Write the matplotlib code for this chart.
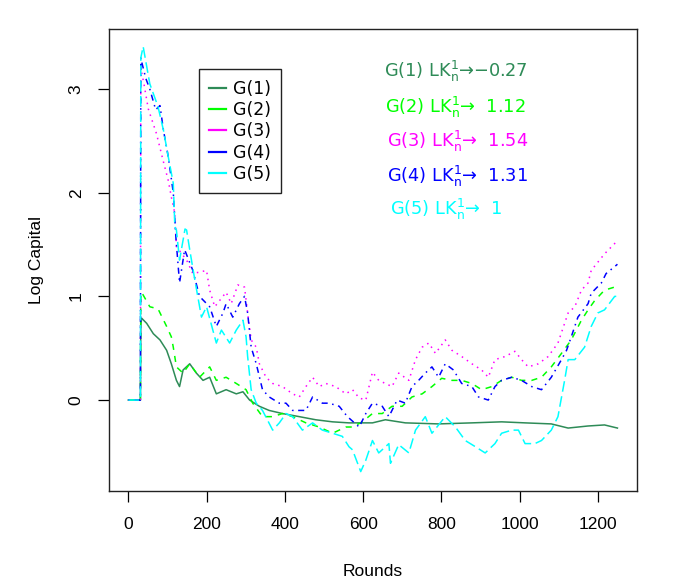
import matplotlib
matplotlib.use("Agg")
import matplotlib.pyplot as plt
from matplotlib.lines import Line2D

# ---- data: log capital of five strategies over betting rounds ----
rounds_g1 = [0, 31, 32, 34, 47, 64, 81, 98, 110, 123, 131, 140, 157, 174, 191, 208,
             225, 250, 276, 293, 310, 335, 360, 394, 437, 479, 522, 564, 624, 657,
             708, 793, 878, 954, 1014, 1081, 1124, 1175, 1217, 1250]
g1 = [0, 0, 0.72, 0.79, 0.74, 0.64, 0.58, 0.48, 0.35, 0.19, 0.13, 0.29, 0.35, 0.26,
      0.19, 0.22, 0.06, 0.10, 0.06, 0.08, 0.0, -0.06, -0.10, -0.13, -0.16, -0.19,
      -0.21, -0.22, -0.22, -0.19, -0.22, -0.23, -0.22, -0.21, -0.22, -0.23, -0.27,
      -0.25, -0.24, -0.27]

rounds_g2 = [0, 31, 32, 34, 55, 76, 98, 110, 115, 123, 140, 157, 182, 208, 225, 250,
             276, 301, 318, 343, 369, 394, 420, 454, 488, 522, 556, 573, 598, 624,
             649, 674, 700, 725, 751, 776, 801, 827, 852, 878, 903, 929, 954, 980,
             1005, 1031, 1056, 1081, 1107, 1132, 1158, 1175, 1192, 1217, 1243, 1250]
g2 = [0, 0, 0.98, 1.04, 0.90, 0.88, 0.71, 0.61, 0.51, 0.32, 0.26, 0.35, 0.22, 0.32,
      0.19, 0.22, 0.16, 0.10, -0.03, -0.16, -0.16, -0.13, -0.16, -0.22, -0.26, -0.32,
      -0.26, -0.26, -0.21, -0.13, -0.13, -0.06, -0.06, 0.03, 0.06, 0.13, 0.21, 0.19,
      0.19, 0.16, 0.10, 0.13, 0.19, 0.22, 0.19, 0.19, 0.22, 0.32, 0.45, 0.58, 0.77,
      0.87, 0.96, 1.06, 1.09, 1.12]

rounds_g3 = [0, 31, 32, 40, 51, 72, 89, 102, 110, 119, 123, 149, 165, 200, 208, 221,
             250, 263, 280, 297, 305, 314, 327, 335, 352, 369, 394, 420, 437, 454, 471,
             488, 505, 530, 556, 573, 590, 607, 624, 640, 657, 674, 691, 717, 734, 751,
             768, 785, 810, 827, 852, 878, 903, 920, 937, 963, 988, 1005, 1022, 1048,
             1073, 1098, 1115, 1124, 1141, 1158, 1175, 1183, 1217, 1243, 1250]
g3 = [0, 0, 3.20, 3.05, 2.81, 2.57, 2.31, 2.12, 1.96, 1.80, 1.48, 1.35, 1.22, 1.25,
      1.06, 0.90, 1.04, 0.93, 1.11, 1.09, 0.84, 0.58, 0.51, 0.35, 0.22, 0.16, 0.13,
      0.06, 0.03, 0.13, 0.22, 0.13, 0.16, 0.13, 0.06, 0.10, 0.02, 0.0, 0.27, 0.19,
      0.16, 0.13, 0.26, 0.19, 0.39, 0.51, 0.55, 0.45, 0.58, 0.48, 0.42, 0.35, 0.29,
      0.22, 0.39, 0.42, 0.47, 0.39, 0.32, 0.35, 0.42, 0.55, 0.74, 0.84, 0.90, 1.06,
      1.13, 1.25, 1.41, 1.51, 1.54]

rounds_g4 = [0, 31, 32, 35, 45, 55, 70, 81, 90, 102, 115, 122, 131, 144, 165, 182,
             208, 225, 242, 250, 267, 284, 297, 305, 314, 327, 343, 360, 386, 403, 420,
             454, 471, 496, 513, 539, 560, 590, 607, 624, 649, 666, 687, 708, 725, 742,
             759, 776, 793, 810, 831, 852, 878, 895, 920, 937, 954, 980, 1005, 1031,
             1056, 1081, 1107, 1120, 1132, 1149, 1175, 1183, 1209, 1221, 1247, 1250]
g4 = [0, 0, 3.30, 3.25, 3.10, 3.00, 2.80, 2.84, 2.60, 2.35, 2.00, 1.55, 1.13, 1.45,
      1.25, 1.00, 0.90, 0.71, 0.84, 0.93, 0.80, 0.93, 1.00, 0.84, 0.51, 0.35, 0.10,
      0.03, -0.03, -0.03, -0.10, -0.10, 0.03, -0.03, -0.03, -0.06, -0.16, -0.26, -0.13,
      -0.03, -0.06, -0.16, 0.0, -0.03, 0.13, 0.19, 0.26, 0.32, 0.22, 0.35, 0.29, 0.16,
      0.13, 0.03, 0.0, 0.13, 0.19, 0.22, 0.19, 0.13, 0.10, 0.22, 0.39, 0.48, 0.61,
      0.80, 0.93, 1.03, 1.13, 1.22, 1.30, 1.31]

rounds_g5 = [0, 31, 32, 38, 55, 76, 90, 102, 115, 119, 123, 131, 145, 149, 157, 170,
             187, 200, 225, 238, 259, 276, 293, 301, 305, 314, 327, 343, 369, 386, 403,
             420, 445, 471, 496, 522, 547, 564, 573, 594, 607, 624, 640, 666, 670, 691,
             717, 734, 759, 776, 810, 836, 861, 887, 912, 937, 954, 980, 997, 1014,
             1039, 1056, 1081, 1098, 1115, 1124, 1141, 1166, 1183, 1200, 1217, 1243, 1250]
g5 = [0, 0, 3.30, 3.41, 3.05, 2.83, 2.60, 2.35, 2.09, 1.67, 1.64, 1.35, 1.65, 1.64,
      1.45, 1.16, 0.80, 0.90, 0.55, 0.675, 0.55, 0.675, 0.77, 0.61, 0.42, 0.10, -0.03,
      -0.10, -0.29, -0.22, -0.13, -0.16, -0.29, -0.22, -0.29, -0.32, -0.35, -0.45,
      -0.48, -0.69, -0.58, -0.39, -0.51, -0.42, -0.61, -0.43, -0.51, -0.29, -0.16,
      -0.32, -0.16, -0.26, -0.39, -0.45, -0.51, -0.42, -0.32, -0.29, -0.29, -0.42,
      -0.42, -0.39, -0.29, -0.16, 0.19, 0.39, 0.39, 0.51, 0.71, 0.84, 0.87, 1.00, 1.00]

names = ["G(1)", "G(2)", "G(3)", "G(4)", "G(5)"]
final_lk = ["−0.27", "  1.12", "  1.54", "  1.31", "  1"]
x_ticks = [0, 200, 400, 600, 800, 1000, 1200]
y_ticks = [0, 1, 2, 3]

series = [(rounds_g1, g1), (rounds_g2, g2), (rounds_g3, g3), (rounds_g4, g4), (rounds_g5, g5)]
colors = ["#2E8B57", "#00FF00", "#FF00FF", "#0000FF", "#00FFFF"]
styles = ["-", (0, (4, 4)), (0, (1, 3)), (0, (1, 3, 4, 3)), (0, (7, 3))]

plt.rcParams["mathtext.fontset"] = "dejavusans"

fig = plt.figure(figsize=(6.74, 5.79), dpi=100)
ax = fig.add_axes([0.1613, 0.152, 0.7838, 0.7974])

for (r, v), c, ls in zip(series, colors, styles):
    ax.plot(r, v, color=c, linestyle=ls, linewidth=1.1)

ax.set_xlim(-50, 1300)
ax.set_ylim(-0.877, 3.576)
ax.set_xticks(x_ticks)
ax.set_yticks(y_ticks)

sans = "Liberation Sans"
ax.tick_params(axis="both", direction="out", length=8, width=0.9, labelsize=12.5)
ax.tick_params(axis="x", pad=11)
ax.tick_params(axis="y", pad=10, labelrotation=90)
for lab in ax.get_xticklabels() + ax.get_yticklabels():
    lab.set_fontfamily(sans)
for lab in ax.get_yticklabels():
    lab.set_va("center")
for sp in ax.spines.values():
    sp.set_linewidth(1.0)
    sp.set_color("#222222")

ax.set_xlabel("Rounds", fontsize=12.5, family=sans, labelpad=23)
ax.set_ylabel("Log Capital", fontsize=12.5, family=sans, labelpad=18)

# legend with solid sample lines
label_font = {"family": "DejaVu Sans", "size": 12.5}
handles = [Line2D([], [], color=c, linewidth=1.6) for c in colors]
leg = ax.legend(handles, names, loc="upper left", bbox_to_anchor=(0.1704, 0.9134),
                borderaxespad=0, fancybox=False, framealpha=1, edgecolor="#222222",
                prop=label_font, handlelength=0.95, handletextpad=0.4,
                labelspacing=0.19, borderpad=0.6)
leg.get_frame().set_linewidth(1.0)

# annotations with the limiting log-capital of each strategy
ann_x = [653, 657, 660, 662, 670]
ann_y = [3.166, 2.823, 2.49, 2.16, 1.839]
for name, val, c, xx, yy in zip(names, final_lk, colors, ann_x, ann_y):
    ax.text(xx, yy, name + r" LK$\mathregular{_n^1}$→" + val,
            color=c, fontsize=12.8, family="DejaVu Sans", va="center", ha="left")

fig.savefig("out.png", dpi=100)
